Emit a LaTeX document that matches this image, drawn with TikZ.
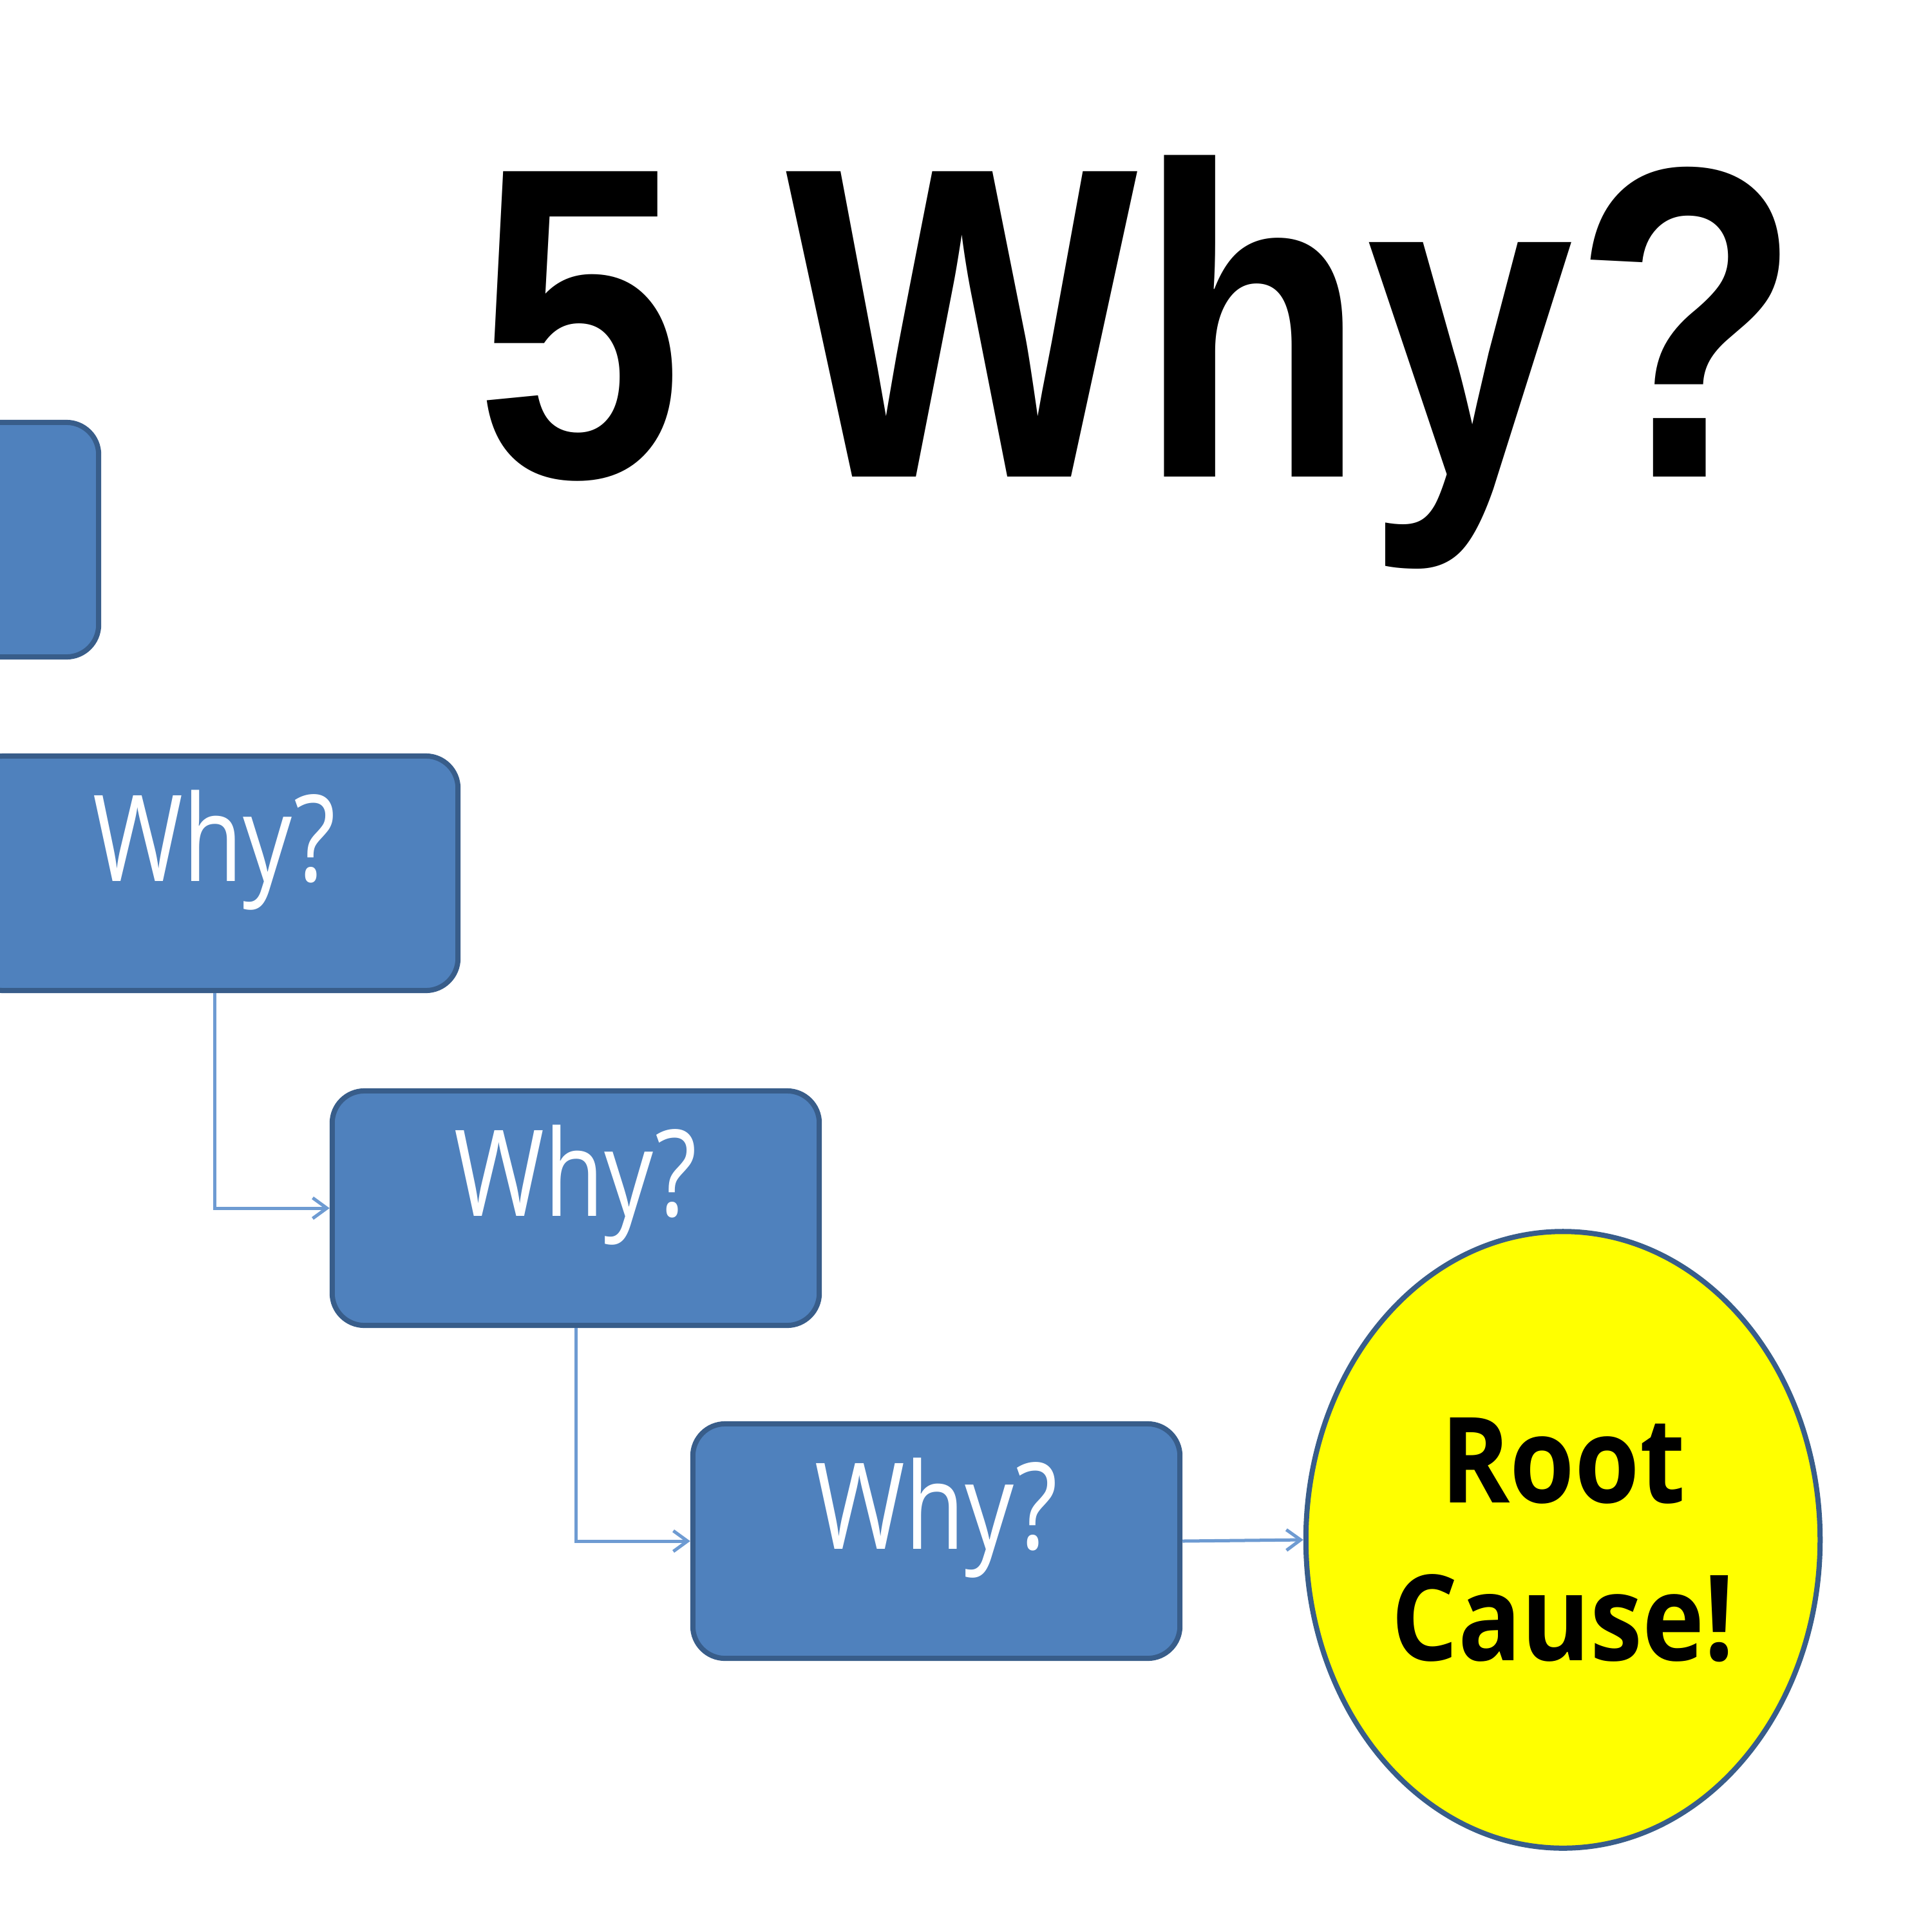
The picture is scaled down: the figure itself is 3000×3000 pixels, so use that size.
\documentclass[tikz,border=0pt]{standalone}
\usepackage{fontspec}
\setmainfont{Open Sans}
\newfontfamily\titlefont{Liberation Sans}
\usetikzlibrary{arrows.meta,shapes.geometric}
\definecolor{boxblue}{RGB}{79,129,189}
\definecolor{boxedge}{RGB}{56,93,138}
\definecolor{linkblue}{RGB}{110,155,210}
\definecolor{rootyellow}{RGB}{255,255,0}
\tikzset{
  whybox/.style={draw=boxedge, line width=0.08cm, fill=boxblue, rounded corners=0.5cm,
    minimum width=7.56cm, minimum height=3.64cm, inner sep=0pt, text=white,
    font=\fontsize{53}{60}\selectfont, text height=0.714em, text depth=0pt},
  rootnode/.style={ellipse, draw=boxedge, line width=0.08cm, fill=rootyellow,
    minimum width=7.98cm, minimum height=9.57cm, inner sep=0pt, align=center,
    font=\bfseries\fontsize{52.6}{69.7}\selectfont},
  link/.style={draw=linkblue, line width=0.05cm, -{Straight Barb[length=0.22cm,width=0.32cm]}},
}
\begin{document}
\begin{tikzpicture}[x=0.01cm,y=-0.01cm]
\clip (0,0) rectangle (3000,3000);
\fill[white] (0,0) rectangle (3000,3000);
\node[anchor=base, inner sep=0pt, font=\titlefont\bfseries\fontsize{196}{200}\selectfont] (title) at (1768,740) {\scalebox{0.84}[1]{5 Why?}};
\node[whybox] (b1) at (-225,838) {};
\node[whybox] (b2) at (333,1356) {\scalebox{0.81}[1]{Why?}};
\node[whybox] (b3) at (894,1876) {\scalebox{0.81}[1]{Why?}};
\node[whybox] (b4) at (1454,2393) {\scalebox{0.81}[1]{Why?}};
\node[rootnode] (root) at (2427,2391) {\scalebox{0.88}[1]{Root}\\\scalebox{0.88}[1]{Cause!}};
\draw[link] (b2.south) |- (b3.west);
\draw[link] (b3.south) |- (b4.west);
\draw[link] (b4.east) -- (root.west);
\end{tikzpicture}
\end{document}
